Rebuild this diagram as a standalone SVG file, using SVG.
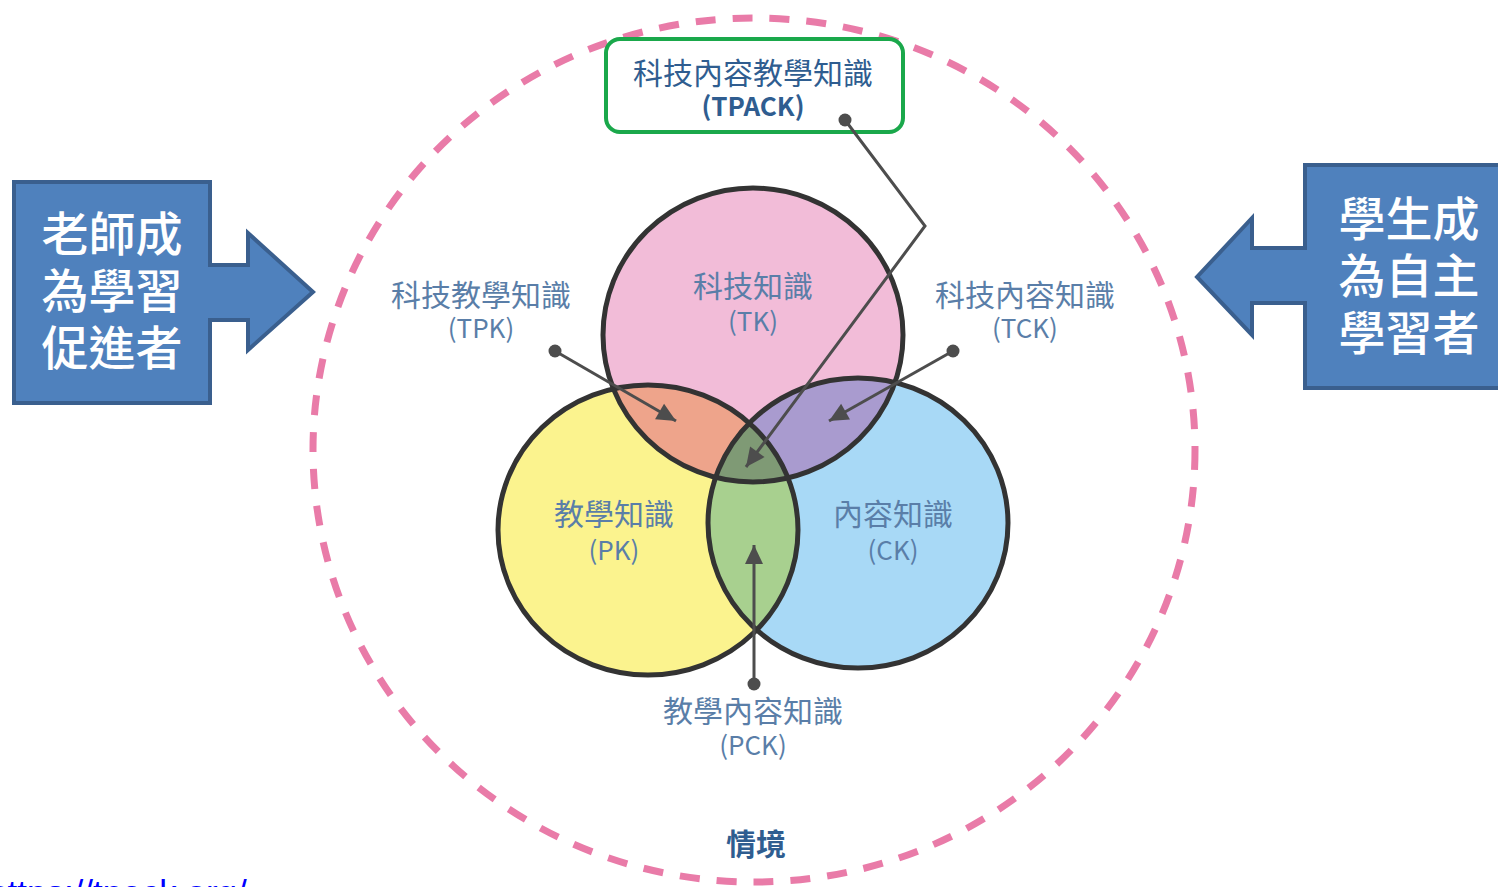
<svg xmlns="http://www.w3.org/2000/svg" width="1498" height="887" viewBox="0 0 1498 887">
  <style>
    .lbl { font-family: "Noto Sans CJK TC", "Noto Sans", sans-serif; font-size: 30px; fill: #5a7ea8; text-anchor: middle; }
    .abbr { font-size: 26px; }
    .dark { fill: #2f5d90; }
    .bold { font-weight: 700; }
    .call { font-family: "Noto Sans CJK TC", "Noto Sans", sans-serif; font-size: 47px; font-weight: 500; fill: #ffffff; text-anchor: middle; }
    .callout { fill: #4f81bd; stroke: #3a5f8e; stroke-width: 4; stroke-linejoin: miter; }
    .ring { fill: none; stroke: #333333; stroke-width: 5; }
    .conn { fill: none; stroke: #4d4d4d; stroke-width: 3; marker-start: url(#dot); marker-end: url(#arr); }
  </style>
  <defs>
    <marker id="arr" markerUnits="userSpaceOnUse" markerWidth="22" markerHeight="22" viewBox="0 0 22 22" refX="20" refY="11" orient="auto">
      <path d="M1,2 L20,11 L1,20 Z" fill="#4d4d4d"/>
    </marker>
    <marker id="dot" markerUnits="userSpaceOnUse" markerWidth="16" markerHeight="16" viewBox="0 0 16 16" refX="8" refY="8">
      <circle cx="8" cy="8" r="6.5" fill="#4d4d4d"/>
    </marker>
    <clipPath id="cT"><ellipse cx="753" cy="335" rx="150" ry="147"/></clipPath>
    <clipPath id="cP"><ellipse cx="648" cy="530" rx="150" ry="145"/></clipPath>
  </defs>

  <rect width="1498" height="887" fill="#ffffff"/>

  <!-- context ring -->
  <g id="context">
    <ellipse cx="754" cy="450" rx="441" ry="432" fill="none" stroke="#e97ba8" stroke-width="7" stroke-dasharray="20 17"/>
    <text class="lbl dark bold" x="756" y="855" font-size="33">情境</text>
  </g>

  <!-- Venn fills -->
  <g id="venn">
    <ellipse id="TK" cx="753" cy="335" rx="150" ry="147" fill="#f2bcd8"/>
    <ellipse id="PK" cx="648" cy="530" rx="150" ry="145" fill="#fbf38e"/>
    <ellipse id="CK" cx="858" cy="523" rx="150" ry="145" fill="#a8d9f6"/>
    <ellipse id="TPK" cx="648" cy="530" rx="150" ry="145" fill="#eea48b" clip-path="url(#cT)"/>
    <ellipse id="TCK" cx="858" cy="523" rx="150" ry="145" fill="#a99bcf" clip-path="url(#cT)"/>
    <ellipse id="PCK" cx="858" cy="523" rx="150" ry="145" fill="#a8d08f" clip-path="url(#cP)"/>
    <g clip-path="url(#cT)">
      <ellipse id="TPACK" cx="858" cy="523" rx="150" ry="145" fill="#7f9a75" clip-path="url(#cP)"/>
    </g>
    <ellipse class="ring" cx="753" cy="335" rx="150" ry="147"/>
    <ellipse class="ring" cx="648" cy="530" rx="150" ry="145"/>
    <ellipse class="ring" cx="858" cy="523" rx="150" ry="145"/>
  </g>

  <!-- labels -->
  <g id="label-TK">
    <text class="lbl" x="753" y="297">科技知識</text>
    <text class="lbl abbr" x="753" y="331">(TK)</text>
  </g>
  <g id="label-PK">
    <text class="lbl" x="614" y="525">教學知識</text>
    <text class="lbl abbr" x="614" y="560">(PK)</text>
  </g>
  <g id="label-CK">
    <text class="lbl" x="893" y="525">內容知識</text>
    <text class="lbl abbr" x="893" y="560">(CK)</text>
  </g>
  <g id="label-TPK">
    <text class="lbl" x="481" y="306">科技教學知識</text>
    <text class="lbl abbr" x="481" y="338">(TPK)</text>
  </g>
  <g id="label-TCK">
    <text class="lbl" x="1025" y="306">科技內容知識</text>
    <text class="lbl abbr" x="1025" y="338">(TCK)</text>
  </g>
  <g id="label-PCK">
    <text class="lbl" x="753" y="722">教學內容知識</text>
    <text class="lbl abbr" x="753" y="755">(PCK)</text>
  </g>
  <g id="label-TPACK">
    <rect x="606" y="39" width="297" height="93" rx="14" fill="#ffffff" stroke="#1aa84b" stroke-width="4"/>
    <text class="lbl dark" x="753" y="84">科技內容教學知識</text>
    <text class="lbl abbr dark bold" x="753" y="116" font-size="25">(TPACK)</text>
  </g>

  <!-- connectors -->
  <g id="connectors">
    <path class="conn" d="M555,351 L676,421"/>
    <path class="conn" d="M953,351 L829,421"/>
    <path class="conn" d="M845,120 L925,226 L746,467"/>
    <path class="conn" d="M754,684 L754,545"/>
  </g>

  <!-- callouts -->
  <g id="teacher">
    <polygon class="callout" points="14,182 210,182 210,265 248,265 248,233 313,292 248,350 248,320 210,320 210,403 14,403"/>
    <text class="call" x="112" y="251">老師成</text>
    <text class="call" x="112" y="308">為學習</text>
    <text class="call" x="112" y="365">促進者</text>
  </g>
  <g id="student">
    <polygon class="callout" points="1305,165 1502,165 1502,388 1305,388 1305,303 1252,303 1252,335 1197,277 1252,218 1252,248 1305,248"/>
    <text class="call" x="1409" y="236">學生成</text>
    <text class="call" x="1409" y="293">為自主</text>
    <text class="call" x="1409" y="350">學習者</text>
  </g>

  <!-- cut-off link -->
  <text x="-12" y="905" font-family="Liberation Sans, Arial, sans-serif" font-size="35" fill="#0000ff" text-decoration="underline">https://tpack.org/</text>
</svg>
